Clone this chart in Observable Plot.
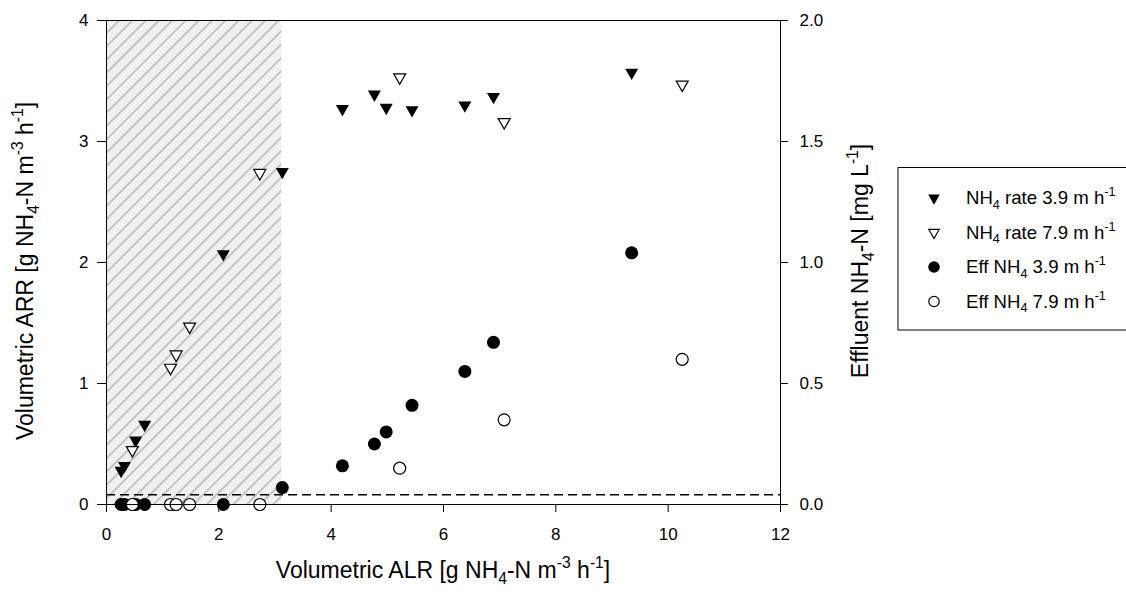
<!DOCTYPE html>
<html><head><meta charset="utf-8">
<script src="https://cdn.jsdelivr.net/npm/d3@7"></script>
<script src="https://cdn.jsdelivr.net/npm/@observablehq/plot@0.6"></script>
<style>html,body{margin:0;padding:0;background:#fff;} svg{display:block}</style>
</head><body><div id="chart"></div>
<script>
// ---- data ----
const xTicks = [0, 2, 4, 6, 8, 10, 12];
const yTicks = [0, 1, 2, 3, 4];            // volumetric ARR [g NH4-N m-3 h-1]
const rightTicks = [0, 0.5, 1.0, 1.5, 2.0]; // effluent NH4-N [mg L-1]

// 3.9 m/h series
const alr39 = [0.26, 0.32, 0.52, 0.68, 2.08, 3.13, 4.20, 4.77, 4.98, 5.44, 6.38, 6.89, 9.35];
const arr39 = [0.28, 0.32, 0.53, 0.66, 2.07, 2.75, 3.27, 3.39, 3.28, 3.26, 3.30, 3.37, 3.57];
const eff39 = [0, 0, 0, 0, 0, 0.07, 0.16, 0.25, 0.30, 0.41, 0.55, 0.67, 1.04];

// 7.9 m/h series
const alr79 = [0.46, 1.14, 1.24, 1.48, 2.73, 5.22, 7.08, 10.25];
const arr79 = [0.45, 1.13, 1.24, 1.47, 2.74, 3.53, 3.16, 3.47];
const eff79 = [0, 0, 0, 0, 0, 0.15, 0.35, 0.60];

const shadedALR = [0, 3.12];       // hatched region
const detectionLimit = 0.04;       // dashed line, mg L-1
const legendLabels = [
  [["NH",""],["4","sub"],[" rate 3.9 m h",""],["-1","sup"]],
  [["NH",""],["4","sub"],[" rate 7.9 m h",""],["-1","sup"]],
  [["Eff NH",""],["4","sub"],[" 3.9 m h",""],["-1","sup"]],
  [["Eff NH",""],["4","sub"],[" 7.9 m h",""],["-1","sup"]]
];

// left axis domain / right axis domain
const yMax = 4, rightMax = 2;
const ratio = yMax / rightMax;

const d39 = alr39.map((x, i) => ({alr: x, arr: arr39[i], eff: eff39[i]}));
const d79 = alr79.map((x, i) => ({alr: x, arr: arr79[i], eff: eff79[i]}));

const triDown = {
  draw(ctx, size) {
    const r = Math.sqrt(size / Math.PI);
    const h = r * 1.75;
    ctx.moveTo(-r, -h / 3);
    ctx.lineTo(r, -h / 3);
    ctx.lineTo(0, 2 * h / 3);
    ctx.closePath();
  }
};

const W = 1126, H = 594;
const font = "'Liberation Sans', Arial, Helvetica, sans-serif";

const plot = Plot.plot({
  width: W, height: H,
  marginLeft: 106, marginRight: W - 780, marginTop: 20, marginBottom: H - 504,
  style: {fontFamily: font, background: "white", color: "black", overflow: "visible"},
  x: {domain: [0, 12]},
  y: {domain: [0, yMax]},
  marks: [
    Plot.rect([shadedALR], {x1: d => d[0], x2: d => d[1], y1: d => 0, y2: d => yMax, fill: "url(#hatch)"}),
    Plot.ruleY([detectionLimit], {y: d => d * ratio, stroke: "black", strokeWidth: 1.4, strokeDasharray: "9,5"}),
    Plot.dot(d39, {x: "alr", y: "arr", symbol: triDown, r: 6.5, fill: "black", stroke: "none"}),
    Plot.dot(d79, {x: "alr", y: "arr", symbol: triDown, r: 6, fill: "white", stroke: "black", strokeWidth: 1.2}),
    Plot.dot(d39, {x: "alr", y: d => d.eff * ratio, r: 6.5, fill: "black", stroke: "none"}),
    Plot.dot(d79, {x: "alr", y: d => d.eff * ratio, r: 6, fill: "white", stroke: "black", strokeWidth: 1.2}),
    Plot.frame({stroke: "black"}),
    Plot.axisX(xTicks, {anchor: "bottom", tickSize: 8, tickPadding: 15, fontSize: 17, label: null, tickFormat: d => String(d)}),
    Plot.axisY(yTicks, {anchor: "left", tickSize: 9, tickPadding: 9, fontSize: 17, label: null, tickFormat: d => String(d)}),
    Plot.axisY(rightTicks.map(v => v * ratio), {anchor: "right", tickSize: 7, tickPadding: 12, fontSize: 17, label: null, tickFormat: d => d3.format(".1f")(d / ratio)})
  ]
});

document.getElementById("chart").appendChild(plot);

const svg = d3.select(plot);
const defs = svg.insert("defs", ":first-child");
const pat = defs.append("pattern").attr("id", "hatch")
  .attr("patternUnits", "userSpaceOnUse").attr("width", 9.4).attr("height", 10)
  .attr("patternTransform", "rotate(45)");
pat.append("rect").attr("width", 9.4).attr("height", 10).attr("fill", "#eff0f2");
pat.append("line").attr("x1", 4.7).attr("y1", 0).attr("x2", 4.7).attr("y2", 10)
  .attr("stroke", "#b9b9b9").attr("stroke-width", 1.6);

function richText(sel, parts, fs, anchor) {
  const t = sel.append("text").attr("font-family", font).attr("font-size", fs)
    .attr("fill", "black").attr("text-anchor", anchor);
  let off = 0;
  parts.forEach(([s, kind]) => {
    let target = 0, size = fs;
    if (kind === "sup") { target = -0.42 * fs; size = 0.68 * fs; }
    if (kind === "sub") { target = 0.26 * fs; size = 0.68 * fs; }
    t.append("tspan").attr("font-size", size).attr("dy", target - off).text(s);
    off = target;
  });
  return t;
}

const labFs = 23;
const xLabel = [["Volumetric ALR [g NH",""],["4","sub"],["-N m",""],["-3","sup"],[" h",""],["-1","sup"],["]",""]];
const yLabel = [["Volumetric ARR [g NH",""],["4","sub"],["-N m",""],["-3","sup"],[" h",""],["-1","sup"],["]",""]];
const rLabel = [["Effluent NH",""],["4","sub"],["-N [mg L",""],["-1","sup"],["]",""]];

richText(svg.append("g").attr("transform", "translate(443,578)"), xLabel, labFs, "middle");
richText(svg.append("g").attr("transform", "translate(33,271) rotate(-90)"), yLabel, labFs, "middle");
richText(svg.append("g").attr("transform", "translate(868,261) rotate(-90)"), rLabel, labFs, "middle");

// legend
const lg = svg.append("g");
lg.append("rect").attr("x", 898).attr("y", 167.5).attr("width", 240).attr("height", 162.5)
  .attr("fill", "white").attr("stroke", "black").attr("stroke-width", 1);
const rowsY = [198, 232.5, 267, 301.5];
const legSym = [
  {sym: triDown, r: 5.8, fill: "black", stroke: "none"},
  {sym: triDown, r: 5.2, fill: "white", stroke: "black"},
  {sym: d3.symbolCircle, r: 5.8, fill: "black", stroke: "none"},
  {sym: d3.symbolCircle, r: 5.2, fill: "white", stroke: "black"}
];
legSym.forEach((s, i) => {
  lg.append("path").attr("transform", `translate(934,${rowsY[i]})`)
    .attr("d", d3.symbol(s.sym, s.r * s.r * Math.PI)())
    .attr("fill", s.fill).attr("stroke", s.stroke).attr("stroke-width", 1.2);
  richText(lg.append("g").attr("transform", `translate(966,${rowsY[i] + 6})`), legendLabels[i], 18.6, "start");
});
</script>
</body></html>
